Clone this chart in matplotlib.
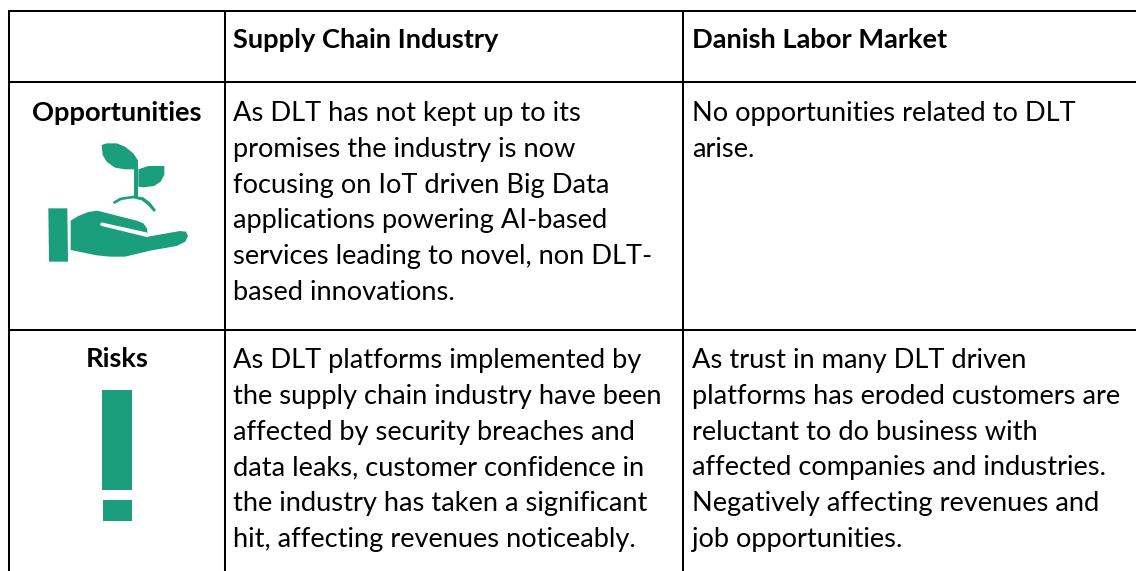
import matplotlib
matplotlib.use("Agg")
import matplotlib.pyplot as plt
from matplotlib.patches import Polygon

plt.rcParams['font.family'] = ['Lato', 'DejaVu Sans']

GREEN = '#1a9e7c'
FS = 19.6

col_heads = ['Supply Chain Industry', 'Danish Labor Market']
row_heads = ['Opportunities', 'Risks']

supply_opp = ['As DLT has not kept up to its',
              'promises the industry is now',
              'focusing on IoT driven Big Data',
              'applications powering AI-based',
              'services leading to novel, non DLT-',
              'based innovations.']
danish_opp = ['No opportunities related to DLT',
              'arise.']
supply_risk = ['As DLT platforms implemented by',
               'the supply chain industry have been',
               'affected by security breaches and',
               'data leaks, customer confidence in',
               'the industry has taken a significant',
               'hit, affecting revenues noticeably.']
danish_risk = ['As trust in many DLT driven',
               'platforms has eroded customers are',
               'reluctant to do business with',
               'affected companies and industries.',
               'Negatively affecting revenues and',
               'job opportunities.']

v_lines = [9, 225, 683]
h_lines = [11, 82, 330]

fig = plt.figure(figsize=(11.36, 5.71), dpi=100)
ax = fig.add_axes([0, 0, 1, 1])
ax.set_xlim(0, 1136)
ax.set_ylim(571, 0)
ax.axis('off')

for x in v_lines:
    ax.plot([x, x], [h_lines[0] - 1, 571], color='black', lw=1.45, solid_capstyle='butt')
for y in h_lines:
    ax.plot([v_lines[0], 1136], [y, y], color='black', lw=1.45, solid_capstyle='butt')

ax.text(233, 40, col_heads[0], fontsize=FS, fontweight='bold', va='center')
ax.text(692, 40, col_heads[1], fontsize=FS, fontweight='bold', va='center')
ax.text(117, 113, row_heads[0], fontsize=FS, fontweight='bold', va='center', ha='center')
ax.text(117, 359, row_heads[1], fontsize=FS, fontweight='bold', va='center', ha='center')


def block(x, y0, lines):
    for i, s in enumerate(lines):
        ax.text(x, y0 + i * 35.8, s, fontsize=FS, va='center_baseline')


block(233, 111, supply_opp)
block(692, 111, danish_opp)
block(233, 358, supply_risk)
block(692, 358, danish_risk)


# icon outlines are in zoomed crop coordinates (3x, origin y=80)
def z(pts):
    return [(px / 3, 80 + py / 3) for px, py in pts]


def shape(pts):
    ax.add_patch(Polygon(z(pts), closed=True, fc=GREEN, ec='none'))


leaf_left = [(305, 195), (320, 190), (350, 190), (375, 200), (400, 220), (413, 240), (413, 268),
             (375, 268), (345, 263), (320, 245), (308, 225)]
leaf_right = [(415, 268), (445, 258), (493, 258), (493, 285), (482, 305), (462, 318), (430, 322), (415, 320)]
stem = [(403, 240), (415, 240), (415, 350), (403, 350)]
soil = [(338, 366), (360, 353), (400, 347), (430, 352), (450, 367), (468, 390), (462, 396),
        (443, 375), (425, 361), (400, 355), (365, 360), (343, 372)]
wrist = [(145, 385), (202, 385), (204, 545), (147, 545)]
palm = [(212, 422), (235, 408), (265, 396), (292, 392), (410, 422), (430, 430), (441, 445), (444, 470),
        (500, 460), (540, 453), (558, 455), (564, 468), (556, 485), (530, 498), (450, 512), (375, 530),
        (330, 530), (290, 526), (212, 510)]
slit = [(303, 428), (308, 428), (443, 458), (444, 472), (305, 438), (300, 434)]
bang_top = [(306, 210), (396, 210), (396, 510), (306, 510)]
bang_dot = [(308, 541), (396, 541), (396, 603), (308, 603)]

for pts in [leaf_left, leaf_right, stem, soil, wrist, palm]:
    shape(pts)
ax.add_patch(Polygon(z(slit), closed=True, fc='white', ec='none'))

# exclamation mark crop starts at y=320 instead
for pts in [bang_top, bang_dot]:
    shape([(px, py + 720) for px, py in pts])

fig.savefig('out.png', dpi=100)
